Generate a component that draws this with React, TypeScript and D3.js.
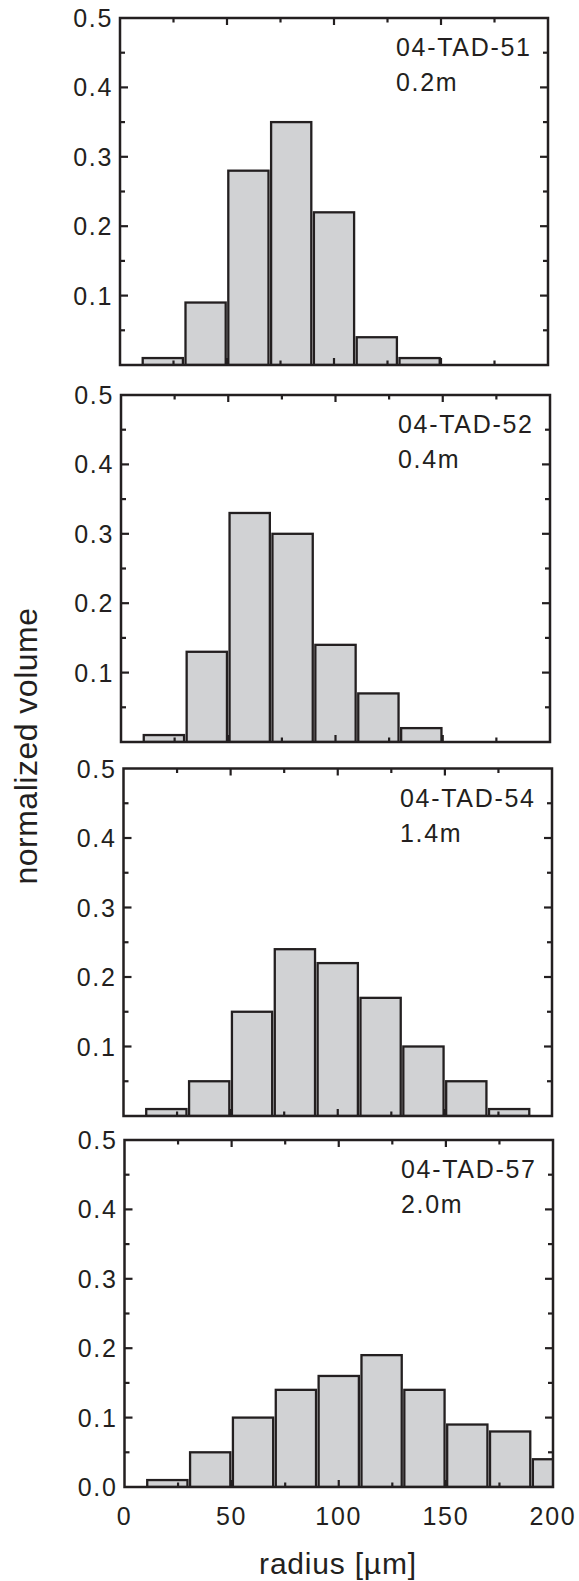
import * as d3 from "d3";

// bins are 20 µm wide, starting at 10 µm
const binStarts = [10, 30, 50, 70, 90, 110, 130, 150, 170, 190];
const binWidth = 20;

const tad51 = [0.01, 0.09, 0.28, 0.35, 0.22, 0.04, 0.01, 0, 0, 0];
const tad52 = [0.01, 0.13, 0.33, 0.3, 0.14, 0.07, 0.02, 0, 0, 0];
const tad54 = [0.01, 0.05, 0.15, 0.24, 0.22, 0.17, 0.1, 0.05, 0.01, 0];
const tad57 = [0.01, 0.05, 0.1, 0.14, 0.16, 0.19, 0.14, 0.09, 0.08, 0.04];

const sampleNames = ["04-TAD-51", "04-TAD-52", "04-TAD-54", "04-TAD-57"];
const depthLabels = ["0.2m", "0.4m", "1.4m", "2.0m"];
const seriesList = [tad51, tad52, tad54, tad57];

const xTickLabels = ["0", "50", "100", "150", "200"];
const yTickLabels = ["0.1", "0.2", "0.3", "0.4", "0.5"];

// panel frames (scanned figure, panels drift a bit to the right)
const frames = [
  { left: 120, right: 548, top: 18, bottom: 365 },
  { left: 121, right: 550, top: 395, bottom: 742 },
  { left: 123.5, right: 552, top: 768.5, bottom: 1116 },
  { left: 124.5, right: 553, top: 1140, bottom: 1487 },
];

const ink = "#231f20";
const barFill = "#d1d2d4";
const font = "'Liberation Sans', Arial, Helvetica, sans-serif";

const Panel = ({ idx }: { idx: number }) => {
  const f = frames[idx];
  const values = seriesList[idx];
  const isLast = idx === frames.length - 1;

  const x = d3.scaleLinear().domain([0, 200]).range([f.left, f.right]);
  const y = d3.scaleLinear().domain([0, 0.5]).range([f.bottom, f.top]);

  const xTicks = d3.range(25, 200, 25);
  const yTicks = d3.range(1, 10).map((d) => d * 0.05);
  const clipId = `clip-${idx}`;
  const inset = 1.3;

  return (
    <g>
      <clipPath id={clipId}>
        <rect x={f.left} y={f.top} width={f.right - f.left} height={f.bottom - f.top} />
      </clipPath>
      <g clipPath={`url(#${clipId})`}>
        {binStarts.map((b, i) =>
          values[i] > 0 ? (
            <rect
              key={i}
              x={x(b) + inset}
              y={y(values[i])}
              width={x(b + binWidth) - x(b) - 2 * inset}
              height={y(0) - y(values[i])}
              fill={barFill}
              stroke={ink}
              strokeWidth={2.3}
            />
          ) : null
        )}
      </g>

      {/* ticks, all inward */}
      {xTicks.map((t) => {
        const len = t % 50 === 0 ? 7 : 4.5;
        return (
          <g key={"x" + t} stroke={ink} strokeWidth={2.2}>
            <line x1={x(t)} x2={x(t)} y1={f.bottom} y2={f.bottom - len} />
            <line x1={x(t)} x2={x(t)} y1={f.top} y2={f.top + len} />
          </g>
        );
      })}
      {yTicks.map((t, i) => {
        const len = i % 2 === 1 ? 8 : 5;
        return (
          <g key={"y" + i} stroke={ink} strokeWidth={2.2}>
            <line x1={f.left} x2={f.left + len} y1={y(t)} y2={y(t)} />
            <line x1={f.right} x2={f.right - len} y1={y(t)} y2={y(t)} />
          </g>
        );
      })}

      <rect
        x={f.left}
        y={f.top}
        width={f.right - f.left}
        height={f.bottom - f.top}
        fill="none"
        stroke={ink}
        strokeWidth={2.5}
      />

      <g fontFamily={font} fontSize={25} fill={ink} letterSpacing={1.7}>
        {yTickLabels.map((lab, i) => (
          <text key={lab} x={f.left - 7} y={y((i + 1) * 0.1)} dy="0.36em" textAnchor="end">
            {lab}
          </text>
        ))}
        {isLast && (
          <text x={f.left - 7} y={y(0)} dy="0.36em" textAnchor="end">
            0.0
          </text>
        )}
        {isLast &&
          xTickLabels.map((lab, i) => (
            <text key={lab} x={x(i * 50)} y={f.bottom + 38} textAnchor="middle">
              {lab}
            </text>
          ))}
        <text x={f.right - 152} y={f.top + 38}>
          {sampleNames[idx]}
        </text>
        <text x={f.right - 152} y={f.top + 73}>
          {depthLabels[idx]}
        </text>
      </g>
    </g>
  );
};

export default function App() {
  return (
    <svg
      width={579}
      height={1581}
      style={{ position: "absolute", left: 0, top: 0, background: "#fff" }}
    >
      {frames.map((_, i) => (
        <Panel key={i} idx={i} />
      ))}
      <text
        transform="translate(37,746) rotate(-90)"
        textAnchor="middle"
        fontFamily={font}
        fontSize={32}
        fill={ink}
        letterSpacing={0.5}
      >
        normalized volume
      </text>
      <text
        x={338}
        y={1574}
        textAnchor="middle"
        fontFamily={font}
        fontSize={30}
        fill={ink}
        letterSpacing={0.8}
      >
        radius [µm]
      </text>
    </svg>
  );
}
